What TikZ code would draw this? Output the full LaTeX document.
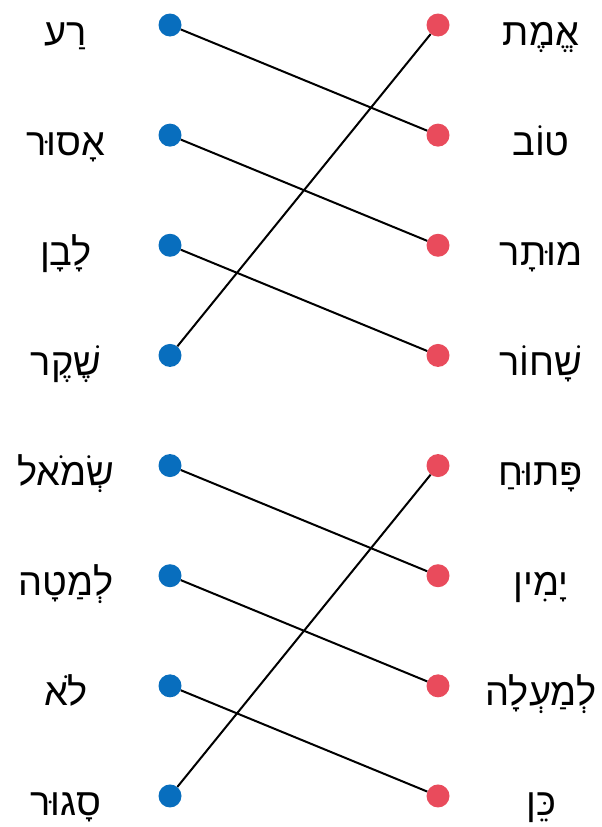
\documentclass[tikz,border=0pt]{standalone}
\usepackage{fontspec}
\TeXXeTstate=1
\newfontfamily\hebfont[Script=Hebrew]{Liberation Sans}
\definecolor{dotblue}{RGB}{8,110,190}
\definecolor{dotred}{RGB}{233,75,92}
\begin{document}
\begin{tikzpicture}[x=1pt,y=-1pt,
  bdot/.style={circle,fill=dotblue,inner sep=0pt,minimum size=23pt},
  rdot/.style={circle,fill=dotred,inner sep=0pt,minimum size=23pt},
  word/.style={font=\hebfont\fontsize{38}{40}\selectfont,anchor=base,inner sep=0pt},
  link/.style={line width=2pt,black}]
\useasboundingbox (0,0) rectangle (602,827);
\def\rowsep{110.14}
% left words
\foreach \i/\w in {1/רַע,2/אָסוּר,3/לָבָן,4/שֶׁקֶר,5/שְׂמֹאל,6/לְמַטָה,7/לֹא,8/סָגוּר}{
  \node[word] (lw\i) at (66,{25+(\i-1)*\rowsep+20}) {\beginR\w\endR};
  \node[bdot] (l\i) at (170,{25+(\i-1)*\rowsep}) {};
}
% right words
\foreach \i/\w in {1/אֱמֶת,2/טוֹב,3/מוּתָר,4/שָׁחוֹר,5/פָּתוּחַ,6/יָמִין,7/לְמַעְלָה,8/כֵּן}{
  \node[word] (rw\i) at (541,{25+(\i-1)*\rowsep+20}) {\beginR\w\endR};
  \node[rdot] (r\i) at (438,{25+(\i-1)*\rowsep}) {};
}
\draw[link] (l1) -- (r2);
\draw[link] (l2) -- (r3);
\draw[link] (l3) -- (r4);
\draw[link] (l4) -- (r1);
\draw[link] (l5) -- (r6);
\draw[link] (l6) -- (r7);
\draw[link] (l7) -- (r8);
\draw[link] (l8) -- (r5);
\end{tikzpicture}
\end{document}
